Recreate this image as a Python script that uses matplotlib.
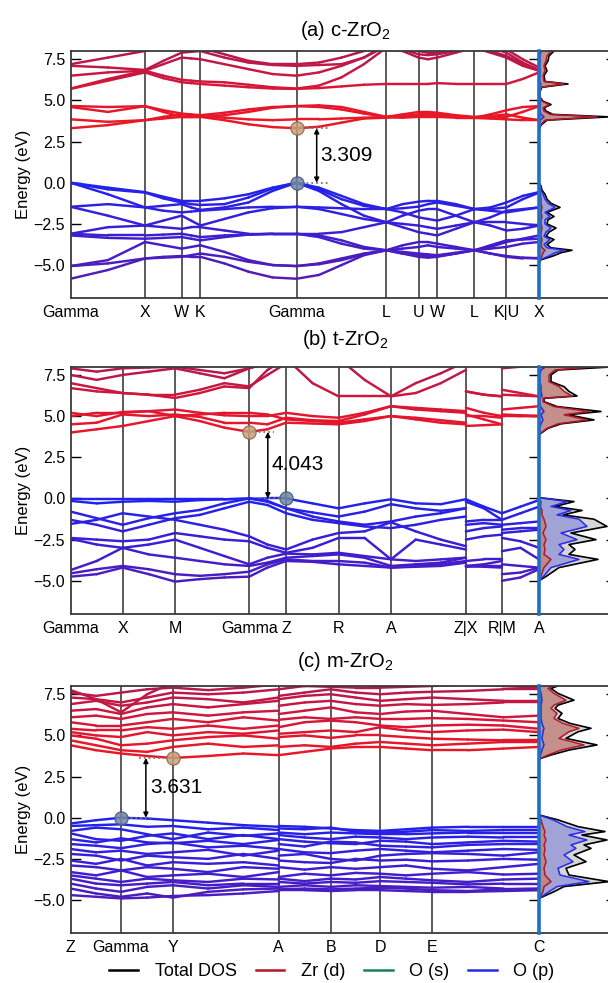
import numpy as np
import matplotlib
matplotlib.use('Agg')
import matplotlib.pyplot as plt
from matplotlib.collections import LineCollection
from matplotlib.colors import LinearSegmentedColormap

plt.rcParams['font.family'] = ['Liberation Sans', 'DejaVu Sans']
plt.rcParams['mathtext.fontset'] = 'custom'
plt.rcParams['mathtext.rm'] = 'Liberation Sans'
plt.rcParams['mathtext.it'] = 'Liberation Sans'

# ---------------- (a) c-ZrO2 ----------------
nodes_a = [0.0, 74.3, 111.0, 129.7, 225.8, 315.7, 347.9, 366.5, 403.7, 435.7, 468.3]
labels_a = ['Gamma', 'X', 'W', 'K', 'Gamma', 'L', 'U', 'W', 'L', 'K|U', 'X']
k_a = [0.0, 37.2, 74.3, 92.6, 111.0, 120.4, 129.7, 153.7, 177.7, 201.8, 225.8,
       248.3, 270.8, 293.2, 315.7, 331.8, 347.9, 357.2, 366.5, 385.1, 403.7,
       419.7, 435.7, 452.0, 468.3]
valence_a = [
    [0.0, -0.3, -0.57, -0.85, -1.1, -1.1, -1.1, -0.95, -0.7, -0.3, 0.0, -0.3, -0.8, -1.3, -1.6, -1.3, -1.15, -1.1, -1.1, -1.3, -1.6, -1.5, -1.2, -0.8, -0.57],
    [0.0, -0.4, -0.6, -0.95, -1.2, -1.3, -1.35, -1.3, -0.9, -0.35, 0.0, -0.4, -1.0, -1.4, -1.6, -1.55, -1.45, -1.3, -1.2, -1.4, -1.6, -1.6, -1.5, -1.0, -0.6],
    [0.0, -0.7, -1.5, -1.4, -1.3, -1.5, -1.65, -1.5, -1.2, -0.5, 0.0, -0.5, -1.3, -2.0, -2.4, -2.0, -1.7, -1.6, -1.6, -2.0, -2.4, -2.1, -1.7, -1.6, -1.5],
    [-1.46, -1.3, -1.5, -1.7, -1.8, -1.75, -1.7, -1.6, -1.5, -1.46, -1.46, -1.5, -1.55, -1.6, -1.6, -1.8, -2.1, -2.2, -2.3, -2.0, -1.6, -1.7, -1.8, -1.65, -1.5],
    [-1.46, -2.0, -2.6, -2.3, -2.0, -2.3, -2.6, -2.2, -1.8, -1.55, -1.46, -1.6, -1.9, -2.2, -2.4, -2.5, -2.6, -2.7, -2.8, -2.6, -2.4, -2.4, -2.4, -2.5, -2.6],
    [-3.1, -2.7, -2.6, -2.7, -2.8, -2.7, -2.7, -2.9, -3.1, -3.1, -3.1, -3.1, -3.0, -2.7, -2.4, -2.7, -3.0, -3.1, -3.2, -2.8, -2.4, -2.6, -2.9, -2.8, -2.6],
    [-3.1, -3.2, -3.2, -3.15, -3.1, -3.2, -3.3, -3.2, -3.15, -3.1, -3.1, -3.3, -3.7, -4.0, -4.1, -3.8, -3.6, -3.6, -3.7, -3.9, -4.1, -3.9, -3.6, -3.4, -3.2],
    [-3.2, -3.35, -3.4, -3.35, -3.3, -3.4, -3.5, -3.3, -3.15, -3.1, -3.1, -3.2, -3.5, -3.9, -4.1, -4.0, -3.9, -3.8, -3.9, -4.0, -4.1, -3.8, -3.5, -3.45, -3.4],
    [-5.06, -4.9, -4.6, -4.55, -4.5, -4.4, -4.3, -4.5, -4.8, -5.0, -5.06, -4.9, -4.6, -4.3, -4.1, -4.3, -4.5, -4.55, -4.5, -4.3, -4.1, -4.3, -4.5, -4.6, -4.6],
    [-5.06, -4.7, -3.6, -3.8, -4.0, -3.9, -3.8, -4.2, -4.7, -5.0, -5.06, -4.95, -4.7, -4.35, -4.1, -4.2, -4.3, -4.35, -4.4, -4.25, -4.1, -4.0, -3.9, -3.7, -3.6],
    [-5.83, -5.3, -4.6, -4.5, -4.45, -4.5, -4.5, -4.9, -5.4, -5.75, -5.83, -5.6, -5.0, -4.4, -4.1, -4.3, -4.4, -4.45, -4.45, -4.3, -4.1, -4.3, -4.45, -4.55, -4.6],
]
conduction_a = [
    [3.31, 3.5, 3.8, 3.9, 4.0, 4.0, 4.0, 3.8, 3.55, 3.38, 3.31, 3.4, 3.65, 3.9, 3.95, 4.0, 4.05, 4.05, 4.05, 4.0, 3.95, 3.9, 3.85, 3.8, 3.8],
    [3.85, 3.7, 3.8, 4.0, 4.15, 4.1, 4.05, 3.95, 3.85, 3.8, 3.85, 3.85, 3.9, 3.95, 4.0, 4.15, 4.3, 4.3, 4.25, 4.1, 4.0, 4.05, 4.15, 3.95, 3.8],
    [4.6, 4.3, 4.65, 4.4, 4.2, 4.15, 4.1, 4.25, 4.45, 4.6, 4.65, 4.6, 4.45, 4.2, 4.0, 4.05, 4.15, 4.2, 4.2, 4.05, 3.95, 4.15, 4.4, 4.6, 4.65],
    [4.66, 4.6, 4.65, 4.3, 4.0, 4.0, 4.0, 4.1, 4.3, 4.55, 4.66, 4.7, 4.6, 4.3, 4.0, 3.95, 4.0, 4.0, 4.0, 3.95, 3.95, 3.95, 4.0, 4.3, 4.65],
    [5.7, 6.2, 6.7, 6.35, 6.1, 6.05, 6.0, 5.9, 5.8, 5.72, 5.7, 5.75, 5.85, 5.95, 6.0, 6.0, 6.0, 6.0, 6.05, 6.0, 6.0, 6.0, 6.0, 6.3, 6.7],
    [5.72, 6.3, 6.8, 6.5, 6.25, 6.2, 6.15, 6.1, 5.95, 5.8, 5.72, 5.9, 6.4, 7.2, 8.2, 8.0, 7.6, 7.5, 7.6, 7.9, 8.2, 7.9, 7.6, 7.1, 6.8],
    [6.5, 6.7, 6.8, 7.2, 7.6, 7.55, 7.5, 7.2, 6.9, 6.6, 6.5, 6.7, 7.1, 7.6, 8.3, 8.1, 7.8, 7.75, 7.8, 8.0, 8.3, 8.0, 7.7, 7.2, 6.8],
    [7.1, 7.0, 6.85, 7.4, 7.9, 7.95, 8.0, 7.6, 7.3, 7.15, 7.1, 7.15, 7.2, 7.6, 8.4, 8.3, 8.0, 7.9, 7.9, 8.2, 8.4, 8.2, 7.9, 7.3, 6.85],
    [7.2, 7.6, 8.0, 8.2, 8.3, 8.2, 8.2, 7.8, 7.4, 7.2, 7.2, 7.3, 7.6, 8.0, 8.6, 8.5, 8.3, 8.2, 8.2, 8.4, 8.6, 8.4, 8.1, 7.5, 7.0],
]
dos_e_a = [-7.0, -5.0, -4.7, -4.45, -4.25, -4.1, -3.95, -3.75, -3.45, -3.25, -3.0, -2.75, -2.5, -2.25,
           -2.05, -1.8, -1.5, -1.25, -1.0, -0.7, -0.45, -0.2, 0.0, 3.2, 3.5, 3.8, 4.0, 4.15, 4.35,
           4.55, 4.75, 4.95, 5.2, 5.5, 5.8, 6.0, 6.15, 6.5, 6.8, 7.1, 7.4, 7.7, 8.0]
total_a = [0, 0, 1, 14, 22, 33, 12, 8, 15, 7, 10, 17, 8, 9, 15, 8, 21, 12, 8, 6, 3, 2, 0,
           0, 2, 8, 70, 14, 7, 5, 12, 4, 1, 0.5, 3, 29, 6, 5, 8, 6, 9, 10, 15]
zr_d_a = [0, 0, 0.5, 3, 4, 6, 3, 2, 3, 2, 2, 3, 2, 2, 3, 2, 3, 2, 2, 1.5, 1, 0.5, 0,
          0, 1.5, 6, 58, 11, 5, 4, 10, 3, 0.8, 0.4, 2.5, 25, 5, 4, 6, 5, 7, 8, 12]
o_p_a = [0, 0, 0.5, 10, 16, 25, 8, 5, 11, 5, 7, 12, 6, 6, 11, 6, 16, 9, 6, 4, 2, 1.5, 0,
         0, 0.3, 1, 5, 2, 1, 1, 1.5, 0.5, 0.2, 0.1, 0.3, 2, 0.5, 0.5, 1, 0.5, 1, 1, 2]

# ---------------- (b) t-ZrO2 ----------------
nodes_b = [0.0, 51.8, 104.1, 178.1, 215.0, 267.3, 319.6, 394.3, 430.3, 467.3]
labels_b = ['Gamma', 'X', 'M', 'Gamma', 'Z', 'R', 'A', 'Z|X', 'R|M', 'A']
k_b = [0.0, 25.9, 51.8, 77.9, 104.1, 128.8, 153.3, 178.1, 196.3, 215.0, 241.3, 267.3,
       293.3, 319.6, 344.3, 369.3, 394.3, 394.3, 412.3, 430.3, 430.3, 448.8, 467.3]
valence_b = [
    [-0.05, -0.05, -0.05, -0.05, -0.05, -0.05, -0.05, -0.02, 0.0, 0.0, -0.3, -0.6, -0.3, -0.05, -0.3, -0.35, -0.05, -0.05, -0.5, -0.9, -0.9, -0.5, -0.1],
    [-0.15, -0.3, -0.2, -0.15, -0.2, -0.1, -0.05, 0.0, -0.2, -0.6, -0.85, -1.1, -0.8, -0.35, -0.6, -0.75, -0.6, -0.2, -0.6, -1.3, -1.3, -0.9, -0.5],
    [-0.8, -1.2, -1.6, -1.2, -0.9, -0.7, -0.3, 0.0, -0.15, -0.6, -1.1, -1.4, -1.6, -1.4, -1.1, -0.9, -0.6, -1.4, -1.3, -1.3, -1.6, -1.5, -1.4],
    [-1.3, -1.6, -2.0, -1.6, -1.2, -1.0, -0.6, -0.2, -0.4, -0.9, -1.3, -1.5, -1.7, -1.8, -1.6, -1.3, -1.1, -1.6, -1.5, -1.6, -1.9, -1.8, -1.8],
    [-1.55, -1.3, -0.9, -1.1, -1.3, -1.6, -1.9, -2.3, -2.8, -3.1, -2.5, -2.1, -2.0, -1.45, -2.0, -2.5, -2.9, -2.0, -1.8, -1.7, -2.1, -2.0, -1.9],
    [-2.4, -2.5, -2.6, -2.5, -2.1, -2.3, -2.5, -2.6, -3.0, -3.3, -3.0, -2.4, -2.4, -3.7, -2.5, -2.8, -3.1, -2.5, -2.3, -2.2, -2.4, -2.6, -3.0],
    [-2.45, -2.8, -3.0, -2.8, -2.5, -3.0, -3.5, -4.0, -3.6, -3.35, -3.4, -3.3, -3.5, -3.7, -3.8, -3.7, -3.6, -3.8, -3.7, -3.7, -3.2, -3.0, -3.7],
    [-4.35, -3.8, -3.0, -3.4, -3.6, -3.8, -4.0, -4.1, -3.9, -3.6, -3.5, -3.4, -3.6, -4.1, -4.0, -3.9, -3.6, -4.1, -4.0, -3.8, -4.0, -4.1, -4.2],
    [-4.55, -4.3, -4.1, -4.3, -4.6, -4.7, -4.6, -4.45, -4.0, -3.7, -3.8, -3.8, -3.9, -4.2, -4.1, -4.0, -3.8, -4.1, -4.15, -4.2, -4.6, -4.5, -4.2],
    [-4.75, -4.6, -4.2, -4.6, -5.05, -4.9, -4.8, -4.75, -4.2, -3.8, -3.85, -4.0, -4.1, -4.2, -4.15, -4.1, -3.9, -4.15, -4.1, -4.1, -5.0, -4.8, -4.3],
]
conduction_b = [
    [4.0, 4.2, 4.4, 4.7, 5.0, 4.7, 4.3, 4.04, 4.2, 4.6, 4.55, 4.5, 4.7, 5.0, 4.8, 4.6, 4.5, 4.4, 4.45, 4.5, 5.0, 5.0, 5.0],
    [4.5, 4.6, 5.1, 5.0, 5.1, 4.95, 4.6, 4.6, 4.5, 4.9, 4.75, 4.7, 5.1, 5.6, 5.4, 5.3, 5.2, 5.0, 5.0, 4.9, 5.1, 5.05, 5.0],
    [5.0, 5.2, 5.2, 5.3, 5.4, 5.2, 5.05, 5.0, 5.0, 5.2, 5.0, 4.9, 5.2, 5.6, 5.5, 5.4, 5.3, 5.5, 5.2, 5.0, 5.4, 5.5, 5.6],
    [5.2, 5.0, 5.25, 5.3, 5.0, 5.1, 5.2, 5.2, 5.1, 4.8, 4.7, 4.6, 4.8, 5.0, 4.9, 4.75, 4.6, 5.1, 4.8, 4.5, 5.05, 5.0, 5.0],
    [6.7, 6.5, 6.4, 6.3, 6.1, 6.4, 6.8, 6.7, 7.8, 8.5, 7.0, 6.2, 6.2, 6.2, 6.4, 7.0, 7.8, 6.5, 6.3, 6.2, 6.3, 6.25, 6.2],
    [7.0, 6.7, 6.4, 6.3, 6.3, 6.6, 7.0, 6.8, 7.5, 8.2, 8.5, 8.5, 7.2, 6.2, 7.0, 7.6, 8.3, 6.5, 6.3, 6.2, 6.6, 6.4, 6.2],
    [7.5, 7.2, 7.5, 7.7, 7.9, 7.6, 7.3, 7.9, 8.2, 8.5, 8.5, 8.6, 8.6, 8.6, 8.6, 8.6, 8.6, 8.2, 8.2, 8.2, 7.9, 8.0, 8.1],
    [7.9, 7.7, 7.9, 7.95, 8.0, 7.8, 7.6, 7.9, 8.3, 8.6, 8.6, 8.6, 8.6, 8.6, 8.6, 8.6, 8.6, 8.5, 8.5, 8.5, 8.0, 8.2, 8.4],
]
dos_e_b = [-7.0, -5.0, -4.7, -4.2, -3.7, -3.4, -3.1, -2.8, -2.5, -2.1, -1.7, -1.26, -1.0, -0.73,
           -0.49, -0.19, 0.05, 3.85, 3.96, 4.26, 4.53, 4.77, 5.08, 5.28, 5.58, 5.88, 6.08, 6.22,
           6.5, 6.79, 7.09, 7.5, 7.8, 7.97, 8.2]
total_b = [0, 0, 8, 20, 59, 30, 36, 30, 57, 32, 68, 55, 24, 43, 16, 35, 0,
           0, 2, 9, 22, 55, 29, 62, 18, 5, 5, 38, 30, 25, 12, 12, 19, 68, 40]
zr_d_b = [0, 0, 2, 5, 12, 5, 6, 5, 7, 4, 7, 5, 3, 3, 1.5, 2, 0,
          0, 1.8, 8, 19, 48, 25, 50, 15, 4, 4, 33, 25, 20, 10, 10, 16, 50, 32]
o_p_b = [0, 0, 5, 12, 40, 20, 25, 20, 38, 22, 48, 40, 18, 32, 12, 28, 0,
         0, 0.2, 0.8, 2, 4, 2, 5, 1.5, 0.5, 0.5, 3, 2, 2, 1, 1, 2, 6, 4]

# ---------------- (c) m-ZrO2 ----------------
nodes_c = [0.0, 50.3, 101.8, 207.6, 259.5, 309.1, 360.7, 467.3]
labels_c = ['Z', 'Gamma', 'Y', 'A', 'B', 'D', 'E', 'C']
k_c = [0.0, 25.3, 50.3, 76.3, 101.8, 137.1, 172.3, 207.6, 207.6, 233.3, 259.5, 284.3,
       309.1, 334.7, 360.7, 396.2, 431.8, 467.3]
valence_c = [
    [-0.35, -0.15, 0.0, -0.05, -0.15, -0.3, -0.45, -0.55, -0.5, -0.55, -0.65, -0.75, -0.8, -0.7, -0.6, -0.55, -0.55, -0.55],
    [-0.5, -0.45, -0.4, -0.55, -0.5, -0.7, -0.6, -0.75, -0.65, -0.7, -0.6, -0.85, -0.9, -0.85, -0.75, -0.8, -0.75, -0.75],
    [-0.8, -0.6, -0.7, -1.0, -1.3, -0.9, -1.1, -0.95, -0.9, -1.0, -0.9, -0.95, -1.0, -1.0, -0.95, -0.9, -0.9, -0.9],
    [-0.95, -1.3, -1.4, -1.1, -0.95, -1.3, -1.05, -1.3, -1.05, -1.2, -1.3, -1.15, -1.2, -1.3, -1.2, -1.15, -1.2, -1.2],
    [-1.3, -1.5, -1.25, -1.5, -1.55, -1.4, -1.6, -1.35, -1.3, -1.45, -1.55, -1.6, -1.4, -1.45, -1.6, -1.5, -1.4, -1.45],
    [-1.6, -1.7, -1.85, -1.6, -1.5, -1.8, -1.7, -1.9, -1.6, -1.75, -1.45, -1.5, -1.7, -1.75, -1.8, -1.65, -1.6, -1.6],
    [-1.9, -2.1, -2.0, -2.2, -2.1, -1.95, -2.3, -2.0, -1.9, -2.1, -2.15, -2.0, -1.9, -2.0, -2.1, -2.0, -1.9, -1.95],
    [-2.2, -2.3, -2.6, -2.3, -2.4, -2.5, -2.2, -2.5, -2.3, -2.2, -2.5, -2.6, -2.3, -2.2, -2.15, -2.2, -2.3, -2.1],
    [-2.6, -2.8, -2.5, -2.9, -2.7, -2.8, -2.7, -2.9, -2.6, -2.7, -2.75, -2.5, -2.6, -2.55, -2.65, -2.6, -2.5, -2.55],
    [-2.9, -3.0, -3.2, -3.0, -3.1, -3.3, -3.0, -3.1, -3.0, -3.15, -3.0, -3.1, -3.0, -2.9, -3.1, -3.2, -3.0, -2.8],
    [-3.3, -3.5, -3.2, -3.6, -3.5, -3.4, -3.6, -3.3, -3.6, -3.4, -3.5, -3.35, -3.4, -3.5, -3.4, -3.3, -3.45, -3.4],
    [-3.5, -3.7, -3.9, -3.7, -3.8, -3.9, -3.7, -3.75, -3.7, -3.85, -3.7, -3.75, -3.6, -3.7, -3.8, -3.9, -3.75, -3.7],
    [-3.7, -4.0, -4.1, -4.0, -3.9, -4.1, -4.0, -4.0, -3.9, -4.0, -3.9, -3.95, -3.85, -3.9, -3.95, -4.05, -4.0, -4.0],
    [-4.0, -4.3, -4.5, -4.2, -4.1, -4.3, -4.1, -4.2, -4.2, -4.1, -4.2, -4.1, -4.15, -4.2, -4.25, -4.2, -4.3, -4.3],
    [-4.3, -4.6, -4.8, -4.6, -4.85, -4.5, -4.35, -4.3, -4.35, -4.3, -4.35, -4.3, -4.25, -4.3, -4.4, -4.45, -4.35, -4.3],
    [-4.7, -4.8, -4.9, -4.85, -4.75, -4.7, -4.6, -4.45, -4.4, -4.4, -4.45, -4.4, -4.4, -4.45, -4.5, -4.5, -4.45, -4.4],
]
conduction_c = [
    [4.4, 4.1, 3.9, 3.75, 3.63, 3.75, 3.9, 3.8, 3.8, 4.0, 4.2, 4.3, 4.3, 4.2, 4.1, 4.1, 4.2, 4.3],
    [4.7, 4.4, 4.1, 4.0, 4.3, 4.5, 4.3, 4.4, 4.3, 4.4, 4.3, 4.5, 4.6, 4.5, 4.4, 4.5, 4.6, 4.6],
    [5.0, 4.8, 4.4, 4.5, 4.7, 4.9, 5.0, 4.8, 4.9, 5.0, 4.85, 5.0, 5.0, 4.9, 4.8, 4.75, 4.7, 4.7],
    [5.2, 5.0, 4.9, 5.2, 5.0, 5.2, 5.1, 5.3, 5.1, 5.2, 5.3, 5.2, 5.5, 5.3, 5.2, 5.3, 5.35, 5.2],
    [5.4, 5.3, 5.3, 5.5, 5.4, 5.6, 5.4, 5.6, 5.5, 5.8, 5.9, 5.8, 5.6, 5.5, 5.6, 5.65, 5.6, 5.4],
    [5.8, 5.6, 5.6, 5.8, 6.0, 5.8, 6.1, 5.9, 5.95, 6.1, 6.0, 6.1, 6.0, 6.0, 6.05, 6.0, 5.9, 5.8],
    [6.1, 6.2, 6.0, 6.3, 6.4, 6.2, 6.4, 6.5, 6.3, 6.5, 6.7, 6.4, 6.3, 6.45, 6.5, 6.3, 6.1, 6.2],
    [6.5, 6.6, 6.3, 6.7, 6.9, 6.7, 6.9, 7.1, 6.8, 7.0, 7.1, 6.9, 6.8, 6.9, 6.85, 6.9, 7.0, 7.0],
    [6.9, 7.1, 6.8, 7.0, 7.3, 7.2, 7.0, 7.3, 7.2, 7.4, 7.5, 7.3, 7.1, 7.2, 7.3, 7.2, 7.1, 7.1],
    [7.3, 7.2, 7.0, 7.3, 7.6, 7.5, 7.6, 7.8, 7.4, 7.6, 7.8, 7.6, 7.5, 7.6, 7.65, 7.7, 7.8, 7.8],
    [7.6, 7.4, 7.6, 7.8, 7.9, 7.75, 7.9, 8.1, 7.8, 8.0, 7.95, 7.9, 7.9, 7.95, 8.0, 8.1, 8.0, 7.9],
    [7.75, 7.2, 6.4, 7.5, 8.2, 8.1, 8.2, 8.2, 8.1, 8.0, 8.2, 8.1, 8.0, 8.1, 8.2, 8.2, 8.2, 8.2],
]
dos_e_c = [-7.0, -4.9, -4.49, -4.18, -3.88, -3.48, -3.07, -2.67, -2.26, -1.86, -1.65, -1.35,
           -1.05, -0.84, -0.54, -0.13, 0.17, 3.5, 3.61, 3.81, 4.11, 4.42, 4.82, 5.22, 5.43, 5.73,
           6.03, 6.34, 6.64, 6.84, 7.14, 7.55, 7.85, 8.1]
total_c = [0, 0, 15, 25, 70, 30, 27, 47, 35, 52, 45, 68, 43, 66, 39, 19, 0,
           0, 2, 12, 30, 58, 27, 39, 52, 31, 19, 23, 16, 19, 35, 19, 12, 23]
zr_d_c = [0, 0, 4, 5, 12, 6, 5, 7, 5, 6, 5, 7, 5, 6, 4, 2, 0,
          0, 1.5, 9, 22, 45, 20, 30, 40, 24, 15, 18, 12, 15, 27, 15, 9, 18]
o_p_c = [0, 0, 10, 18, 50, 21, 19, 34, 25, 37, 32, 48, 30, 46, 28, 14, 0,
         0, 0.3, 1.5, 3, 5, 3, 4, 5, 3, 2, 2, 2, 2, 3, 2, 1, 2]

# band-gap markers: (k of VBM, k of CBM, gap, arrow k, text k, text energy, dotted spans)
gaps = {
    'a': dict(vbm=225.8, cbm=225.8, gap=3.309, arrow=246.0, text=249.5, text_e=1.65,
              dot_vbm=(225.8, 259.0), dot_cbm=(225.8, 259.0)),
    'b': dict(vbm=215.0, cbm=178.1, gap=4.043, arrow=196.7, text=200.3, text_e=2.05,
              dot_vbm=(188.3, 215.0), dot_cbm=(178.1, 203.3)),
    'c': dict(vbm=50.3, cbm=101.8, gap=3.631, arrow=75.0, text=79.7, text_e=1.85,
              dot_vbm=(50.3, 81.3), dot_cbm=(68.1, 101.8)),
}

band_cmap = LinearSegmentedColormap.from_list('zr_o', [
    (0.0, '#5a1aa8'), (0.067, '#561cb0'), (0.267, '#3c1ed4'), (0.467, '#1f22f0'),
    (0.6, '#9a1a70'), (0.687, '#ec1822'), (0.8, '#e4162e'), (1.0, '#b4184e')])
yticks = [-5, -2.5, 0, 2.5, 5, 7.5]
W, H = 608.0, 983.0


def draw_bands(ax, k, bands):
    segs, vals = [], []
    for b in bands:
        for i in range(len(k) - 1):
            if k[i] == k[i + 1]:
                continue
            segs.append([(k[i], b[i]), (k[i + 1], b[i + 1])])
            vals.append(0.5 * (b[i] + b[i + 1]))
    lc = LineCollection(segs, cmap=band_cmap, norm=plt.Normalize(-7, 8), linewidths=1.75,
                        capstyle='round', joinstyle='round')
    lc.set_array(np.array(vals))
    ax.add_collection(lc)


def setup_band_axis(ax, nodes, labels):
    ax.set_xlim(nodes[0], nodes[-1])
    ax.set_ylim(-7, 8)
    for x in nodes[1:-1]:
        ax.axvline(x, color='#2e2e2e', lw=1.1, zorder=0.5)
    ax.set_xticks(nodes)
    ax.set_xticklabels(labels)
    ax.set_yticks(yticks)
    ax.tick_params(axis='y', direction='in', length=7, width=1, right=True, labelsize=11.5, pad=4)
    ax.tick_params(axis='x', length=0, labelsize=11.5, pad=5)
    ax.set_ylabel('Energy (eV)', fontsize=12)
    ax.yaxis.set_label_coords(-0.085, 0.5)
    for s in ax.spines.values():
        s.set_color('#3a3a3a')
        s.set_linewidth(1.3)


def draw_dos(ax, e, total, zr_d, o_p):
    ax.fill_betweenx(e, 0, total, color='#d6d6d6', lw=0)
    ax.fill_betweenx(e, 0, o_p, color='#9c9ed8', lw=0, alpha=0.9)
    ax.fill_betweenx(e, 0, zr_d, color='#c0847e', lw=0, alpha=0.85)
    ax.plot(total, e, color='black', lw=1.2)
    ax.plot(zr_d, e, color='#b2182b', lw=1.1)
    ax.plot(o_p, e, color='#2a2ae8', lw=1.1)
    ax.set_xlim(0, 77)
    ax.set_ylim(-7, 8)
    ax.set_xticks([])
    ax.set_yticks(yticks)
    ax.tick_params(axis='y', direction='in', length=7, width=1, left=False, right=True,
                   labelleft=False, labelright=False)
    for s in ax.spines.values():
        s.set_color('#3a3a3a')
        s.set_linewidth(1.3)
    ax.spines['left'].set_color('#1f6fc4')
    ax.spines['left'].set_linewidth(2.6)
    ax.spines['left'].set_zorder(5)


def mark_gap(ax, g):
    ax.plot(g['dot_cbm'], [g['gap'], g['gap']], ls=':', color='#777777', lw=1.3, zorder=3)
    ax.plot(g['dot_vbm'], [0, 0], ls=':', color='#777777', lw=1.3, zorder=3)
    ax.scatter([g['cbm']], [g['gap']], s=90, color='#c8a07a', edgecolor='#8c6c4c', alpha=0.85, zorder=4)
    ax.scatter([g['vbm']], [0], s=90, color='#6f86a6', edgecolor='#4a5a78', alpha=0.85, zorder=4)
    ax.annotate('', xy=(g['arrow'], 0.0), xytext=(g['arrow'], g['gap']),
                arrowprops=dict(arrowstyle='<|-|>', color='black', lw=1.1,
                                shrinkA=0, shrinkB=0, mutation_scale=7))
    ax.text(g['text'], g['text_e'], '{:.3f}'.format(g['gap']), fontsize=15, va='center', ha='left')


fig = plt.figure(figsize=(6.08, 9.83), dpi=100)

panels = [
    ('(a) c-ZrO$_2$', 51, 30, nodes_a, labels_a, k_a, valence_a + conduction_a,
     dos_e_a, total_a, zr_d_a, o_p_a, gaps['a']),
    ('(b) t-ZrO$_2$', 366.7, 340, nodes_b, labels_b, k_b, valence_b + conduction_b,
     dos_e_b, total_b, zr_d_b, o_p_b, gaps['b']),
    ('(c) m-ZrO$_2$', 686, 661.5, nodes_c, labels_c, k_c, valence_c + conduction_c,
     dos_e_c, total_c, zr_d_c, o_p_c, gaps['c']),
]

left, right, dos_right, height = 70.7, 539.0, 616.0, 247.0
for title, top, title_y, nodes, labels, k, bands, e, tot, zrd, op, g in panels:
    bottom = 1 - (top + height) / H
    ax = fig.add_axes([left / W, bottom, (right - left) / W, height / H])
    setup_band_axis(ax, nodes, labels)
    draw_bands(ax, k, bands)
    mark_gap(ax, g)
    dax = fig.add_axes([right / W, bottom, (dos_right - right) / W, height / H])
    draw_dos(dax, e, tot, zrd, op)
    fig.text(345 / W, 1 - title_y / H, title, ha='center', va='center', fontsize=14.5)

handles = [plt.Line2D([], [], color='black', lw=1.8),
           plt.Line2D([], [], color='#b2182b', lw=1.8),
           plt.Line2D([], [], color='#1b7f63', lw=1.8),
           plt.Line2D([], [], color='#2a2ae8', lw=1.8)]
fig.legend(handles, ['Total DOS', 'Zr (d)', 'O (s)', 'O (p)'], loc='center', ncol=4,
           bbox_to_anchor=(332 / W, 1 - 971.5 / H), frameon=False, fontsize=13,
           handlelength=1.6, handletextpad=0.9, columnspacing=1.05)

fig.savefig('out.png', dpi=100)
